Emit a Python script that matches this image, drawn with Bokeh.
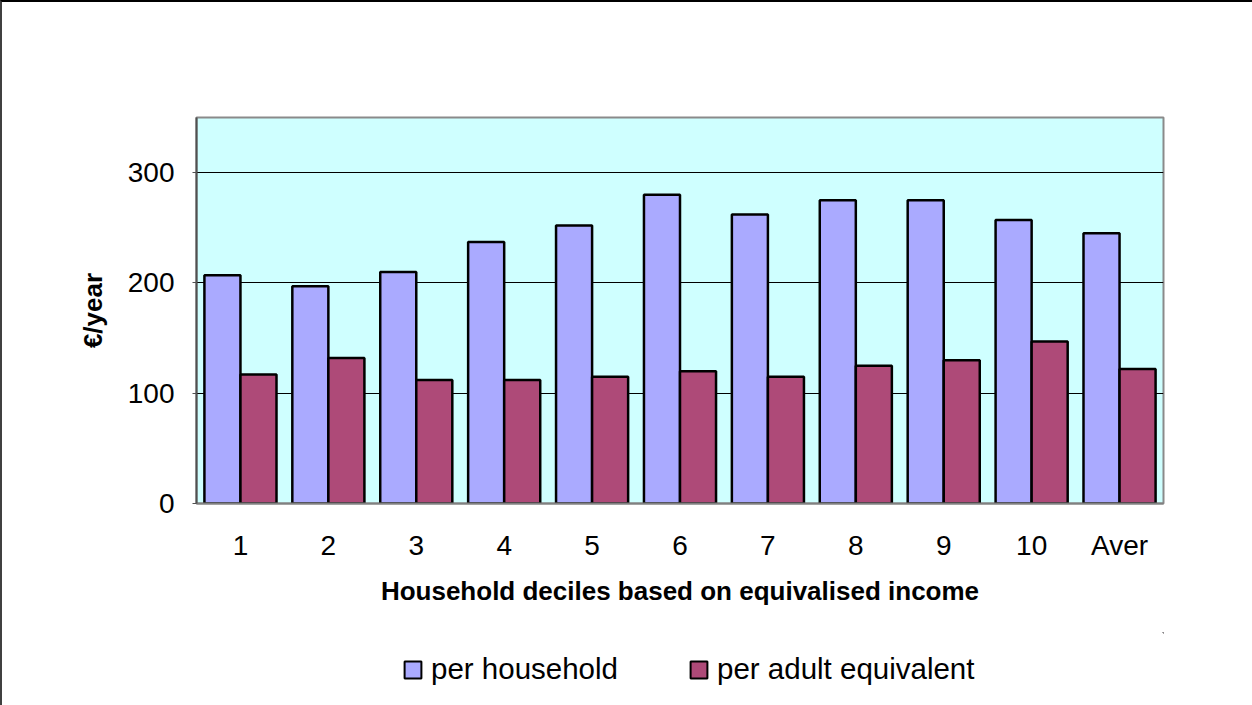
from bokeh.plotting import figure
from bokeh.layouts import column
from bokeh.models import FactorRange, ColumnDataSource, Legend, LegendItem, Range1d, FixedTicker
from bokeh.transform import dodge
from bokeh.embed import file_html
from bokeh.resources import INLINE

categories = ["1", "2", "3", "4", "5", "6", "7", "8", "9", "10", "Aver"]
per_household = [207, 197, 210, 237, 252, 280, 262, 275, 275, 257, 245]
per_adult_equivalent = [117, 132, 112, 112, 115, 120, 115, 125, 130, 147, 122]
y_ticks = [0, 100, 200, 300]
series_names = ["per household", "per adult equivalent"]
series_colors = ["#AAAAFF", "#AE4A78"]

src = ColumnDataSource(dict(cat=categories, hh=per_household, ae=per_adult_equivalent))

p = figure(
    width=1250, height=630,
    x_range=FactorRange(factors=categories),
    y_range=Range1d(0, 350),
    output_backend="svg", toolbar_location=None,
    min_border_left=194, min_border_right=89,
    min_border_top=115, min_border_bottom=129,
)
p.background_fill_color = "#CFFFFF"
p.border_fill_color = "white"
p.outline_line_color = "#8A8A8A"
p.outline_line_width = 2

r1 = p.vbar(x=dodge("cat", -0.205, range=p.x_range), top="hh", width=0.41, source=src,
            fill_color=series_colors[0], line_color="black", line_width=2.5)
r2 = p.vbar(x=dodge("cat", 0.205, range=p.x_range), top="ae", width=0.41, source=src,
            fill_color=series_colors[1], line_color="black", line_width=2.5)

p.xgrid.visible = False
p.ygrid.grid_line_color = "black"
p.ygrid.grid_line_width = 1
p.yaxis.ticker = FixedTicker(ticks=y_ticks)

font = "Liberation Sans"
for ax in (p.xaxis[0], p.yaxis[0]):
    ax.major_label_text_font = font
    ax.major_label_text_font_size = "28px"
    ax.major_label_text_color = "black"
    ax.axis_label_text_font = font
    ax.axis_label_text_font_size = "26px"
    ax.axis_label_text_font_style = "bold"
    ax.axis_label_text_color = "black"
    ax.minor_tick_line_color = None

p.xaxis.axis_label = "Household deciles based on equivalised income"
p.xaxis.axis_line_color = "#808080"
p.xaxis.axis_line_width = 2
p.xaxis.major_tick_line_color = None
p.xaxis.major_label_standoff = 20
p.xaxis.axis_label_standoff = 12

p.yaxis.axis_label = "€/year"
p.yaxis.axis_line_color = "#505050"
p.yaxis.axis_line_width = 2
p.yaxis.major_tick_out = 4
p.yaxis.major_tick_in = 0
p.yaxis.major_tick_line_color = "#505050"
p.yaxis.major_label_standoff = 18
p.yaxis.axis_label_standoff = 17

# legend strip (separate svg figure holding only the legend; its swatch bars lie far outside its ranges)
lg = figure(
    width=1250, height=73, output_backend="svg", toolbar_location=None,
    x_axis_type=None, y_axis_type=None,
    x_range=Range1d(0, 1), y_range=Range1d(0, 1),
    min_border_left=0, min_border_right=0, min_border_top=0, min_border_bottom=0,
)
lg.outline_line_color = None
lg.grid.visible = False
lg.background_fill_color = "white"
lg.border_fill_color = "white"
d1 = lg.vbar(x=[1000], top=[1000], bottom=[999], width=1, fill_color=series_colors[0],
             line_color="black", line_width=2)
d2 = lg.vbar(x=[1000], top=[1000], bottom=[999], width=1, fill_color=series_colors[1],
             line_color="black", line_width=2)
legend = Legend(
    items=[LegendItem(label=series_names[0], renderers=[d1]),
           LegendItem(label=series_names[1], renderers=[d2])],
    orientation="horizontal",
    location=(206, 19),
    padding=0, margin=0, spacing=70,
    glyph_width=21, glyph_height=21, label_standoff=8,
    label_text_font=font, label_text_font_size="29.5px",
    label_text_color="black",
    border_line_alpha=0, background_fill_alpha=0,
)
lg.add_layout(legend, "center")

layout = column(p, lg, spacing=0)
layout.styles = {"border-left": "2px solid #404040", "border-top": "2px solid #000000"}

open("out.html", "w").write(file_html(layout, INLINE))
